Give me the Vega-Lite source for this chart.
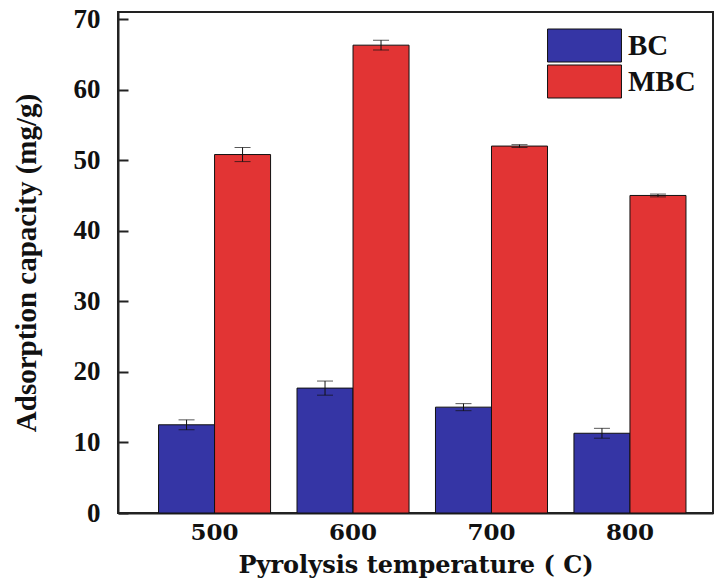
{
  "$schema": "https://vega.github.io/schema/vega-lite/v6.json",
  "width": 595,
  "height": 501,
  "autosize": {"type": "none"},
  "padding": {"left": 118, "top": 12, "right": 3, "bottom": 67},
  "background": "white",
  "config": {
    "font": "Liberation Serif",
    "view": {"stroke": "#222", "strokeWidth": 2},
    "axis": {"labelFont": "Liberation Serif", "titleFont": "Liberation Serif", "labelFontWeight": "bold", "titleFontWeight": "bold", "labelColor": "#111", "titleColor": "#111", "domainColor": "#222", "tickColor": "#222", "grid": false}
  },
  "data": {
    "values": [
      {"temp": "500", "type": "BC", "value": 12.5, "err": 0.7},
      {"temp": "500", "type": "MBC", "value": 50.8, "err": 1.0},
      {"temp": "600", "type": "BC", "value": 17.7, "err": 1.0},
      {"temp": "600", "type": "MBC", "value": 66.3, "err": 0.7},
      {"temp": "700", "type": "BC", "value": 15.0, "err": 0.5},
      {"temp": "700", "type": "MBC", "value": 52.0, "err": 0.2},
      {"temp": "800", "type": "BC", "value": 11.3, "err": 0.7},
      {"temp": "800", "type": "MBC", "value": 45.0, "err": 0.2}
    ]
  },
  "encoding": {
    "x": {
      "field": "temp", "type": "nominal",
      "scale": {"paddingInner": 0.191, "paddingOuter": 0.244, "align": 0.6},
      "axis": {"title": "Pyrolysis temperature ( C)", "labelAngle": 0, "labelFont": "DejaVu Serif", "titleFont": "DejaVu Serif", "labelFontSize": 23, "titleFontSize": 24, "ticks": false, "domainWidth": 2, "labelPadding": 8, "titleBaseline": "alphabetic", "titleY": 59}
    },
    "xOffset": {"field": "type", "type": "nominal", "scale": {"paddingInner": 0, "paddingOuter": 0}}
  },
  "layer": [
    {
      "mark": {"type": "bar", "stroke": "#111", "strokeWidth": 1},
      "encoding": {
        "y": {
          "field": "value", "type": "quantitative",
          "title": "Adsorption capacity (mg/g)",
          "scale": {"domain": [0, 71], "nice": false},
          "axis": {"values": [0, 10, 20, 30, 40, 50, 60, 70], "labelFontSize": 27, "titleFontSize": 29, "tickSize": -10, "tickWidth": 2, "domainWidth": 2, "labelPadding": 28, "titlePadding": 32}
        },
        "color": {
          "field": "type", "type": "nominal",
          "scale": {"domain": ["BC", "MBC"], "range": ["#3535a5", "#e23434"]},
          "legend": {
            "title": null, "orient": "none", "legendX": 449.5, "legendY": 16.5,
            "symbolType": "M-2.24,-1H2.24V1H-2.24Z", "symbolSize": 1089,
            "symbolStrokeColor": "#111", "symbolStrokeWidth": 1,
            "labelFontSize": 29, "labelFontWeight": "bold", "labelFont": "Liberation Serif", "labelColor": "#111",
            "labelOffset": 26.5, "rowPadding": -4
          }
        }
      }
    },
    {
      "mark": {"type": "errorbar", "ticks": {"size": 16, "color": "#111", "strokeWidth": 1.5}, "color": "#111", "strokeWidth": 1.5},
      "encoding": {
        "y": {"field": "value", "type": "quantitative", "title": "Adsorption capacity (mg/g)"},
        "yError": {"field": "err"}
      }
    }
  ]
}
